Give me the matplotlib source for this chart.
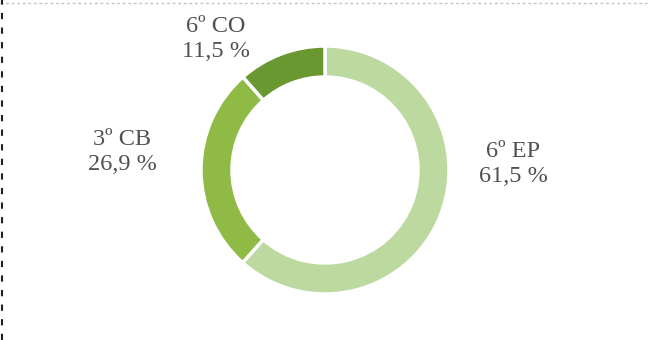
import matplotlib.pyplot as plt
from matplotlib.lines import Line2D

# slice data (clockwise from 12 o'clock)
labels = ["6º EP", "3º CB", "6º CO"]
shares = [61.5, 26.9, 11.5]
colors = ["#bcd9a0", "#8fba45", "#6a9830"]

# label anchor points in pixel space (x from left, y from top)
label_xy = [(513, 164), (122, 152), (216, 39)]

W, H = 650, 340

fig = plt.figure(figsize=(6.5, 3.4), dpi=100)
ax = fig.add_axes([0, 0, 1, 1])
ax.set_xlim(0, W)
ax.set_ylim(0, H)
ax.set_aspect("equal")
ax.axis("off")

ax.pie(shares, colors=colors, startangle=90, counterclock=False,
       center=(325, H - 170), radius=124,
       wedgeprops=dict(width=31, edgecolor="white", linewidth=2.5))
ax.set_xlim(0, W)
ax.set_ylim(0, H)

for name, val, (x, y) in zip(labels, shares, label_xy):
    txt = f"{name}\n{val:.1f} %".replace(".", ",")
    ax.text(x, H - y, txt, ha="center", va="center", fontsize=17.5,
            family="Liberation Serif", color="#505050", linespacing=1.3)

# frame remnants: dotted top edge, dashed left edge
fig.add_artist(Line2D([0, 1], [1 - 3 / H, 1 - 3 / H], transform=fig.transFigure,
                      color="#b8c8c8", lw=1, ls=(0, (2, 2))))
fig.add_artist(Line2D([1.5 / W, 1.5 / W], [0, 1], transform=fig.transFigure,
                      color="#202020", lw=1.5, ls=(0, (3, 4))))

fig.savefig("out.png", dpi=100)
